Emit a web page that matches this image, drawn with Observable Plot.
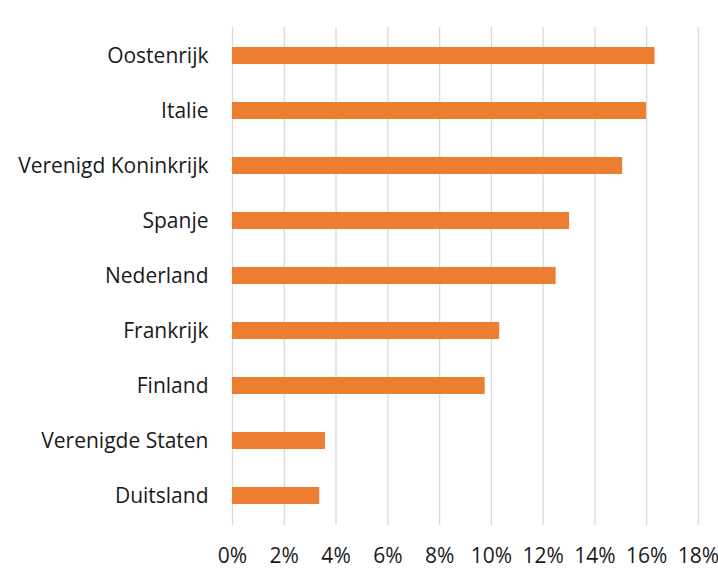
<!DOCTYPE html>
<html>
<head>
<meta charset="utf-8">
<script src="https://cdn.jsdelivr.net/npm/d3@7"></script>
<script src="https://cdn.jsdelivr.net/npm/@observablehq/plot@0.6"></script>
<style>
  html, body { margin: 0; padding: 0; background: #fff; }
  #chart svg { display: block; }
</style>
</head>
<body>
<div id="chart"></div>
<script>
const countries = ["Oostenrijk", "Italie", "Verenigd Koninkrijk", "Spanje", "Nederland", "Frankrijk", "Finland", "Verenigde Staten", "Duitsland"];
const shares = [0.1632, 0.1599, 0.1507, 0.1302, 0.1250, 0.1032, 0.0976, 0.0359, 0.0337];
const xTicks = [0, 0.02, 0.04, 0.06, 0.08, 0.10, 0.12, 0.14, 0.16, 0.18];

const data = countries.map((c, i) => ({country: c, share: shares[i]}));

const chart = Plot.plot({
  width: 718,
  height: 569,
  marginTop: 27,
  marginBottom: 44,
  marginLeft: 232,
  marginRight: 20,
  style: {fontFamily: "'Open Sans', Lato, sans-serif", color: "#1a1a1a", background: "#fff"},
  x: {domain: [0, 0.18]},
  y: {domain: countries, paddingInner: 0.688, paddingOuter: 0.344},
  marks: [
    Plot.gridX(xTicks, {stroke: "#d9d9d9", strokeOpacity: 1, strokeWidth: 1.3}),
    Plot.barX(data, {x: "share", y: "country", fill: "#ED7D31"}),
    Plot.axisX(xTicks, {tickSize: 0, tickPadding: 23, fontSize: 21, tickFormat: d => Math.round(d * 100) + "%", label: null}),
    Plot.axisY({tickSize: 0, tickPadding: 24, fontSize: 21, label: null})
  ]
});
document.getElementById("chart").appendChild(chart);
</script>
</body>
</html>
